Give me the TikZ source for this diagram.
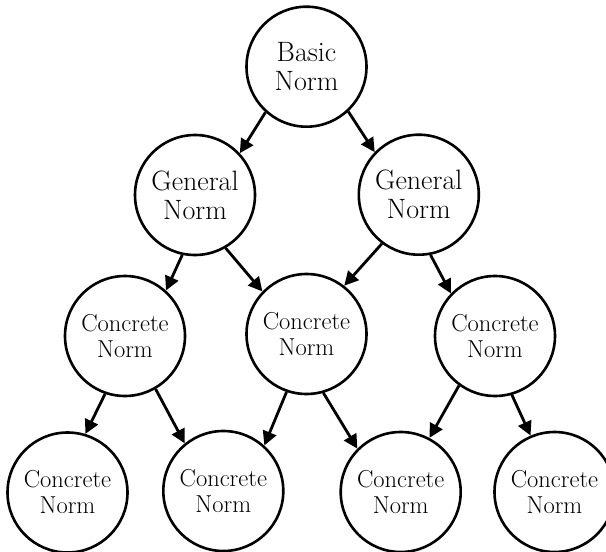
\documentclass[tikz,border=0pt]{standalone}
\usetikzlibrary{arrows.meta}
\begin{document}
\begin{tikzpicture}[x=1pt,y=-1pt,
  normbig/.style={draw,circle,line width=2.6pt,minimum size=120pt,inner sep=0pt,align=center,font=\fontsize{28}{29}\selectfont},
  normsmall/.style={draw,circle,line width=2.6pt,minimum size=120pt,inner sep=0pt,align=center,font=\fontsize{24.5}{26}\selectfont},
  link/.style={line width=2.8pt,-{Triangle[length=14pt,width=14pt]}}]
\useasboundingbox (0,0) rectangle (606,552);
\clip (0,0) rectangle (606,552);
\node[normbig] (b) at (306.5,66.7) {Basic\\Norm};
\node[normbig] (gl) at (195,195) {General\\Norm};
\node[normbig] (gr) at (418.8,194.7) {General\\Norm};
\node[normsmall] (cl) at (125,336) {Concrete\\Norm};
\node[normsmall] (cm) at (306.5,334) {Concrete\\Norm};
\node[normsmall] (cr) at (495,336) {Concrete\\Norm};
\node[normsmall] (d1) at (67.5,492.5) {Concrete\\Norm};
\node[normsmall] (d2) at (223.3,491) {Concrete\\Norm};
\node[normsmall] (d3) at (400.7,492) {Concrete\\Norm};
\node[normsmall] (d4) at (554.5,492) {Concrete\\Norm};
\draw[link] (b.-132.8) -- (gl.43.2);
\draw[link] (b.-47) -- (gr.136.6);
\draw[link] (gl.-102.3) -- (cl.48.8);
\draw[link] (gl.-60.4) -- (cm.136);
\draw[link] (gr.-127) -- (cm.52.4);
\draw[link] (gr.-79.6) -- (cr.136.5);
\draw[link] (cl.-109.9) -- (d1.73.7);
\draw[link] (cl.-60.1) -- (d2.129.4);
\draw[link] (cm.-109.1) -- (d2.48.6);
\draw[link] (cm.-74.7) -- (d3.135);
\draw[link] (cr.-126.3) -- (d3.62.7);
\draw[link] (cr.-74.6) -- (d4.113);
\end{tikzpicture}
\end{document}
